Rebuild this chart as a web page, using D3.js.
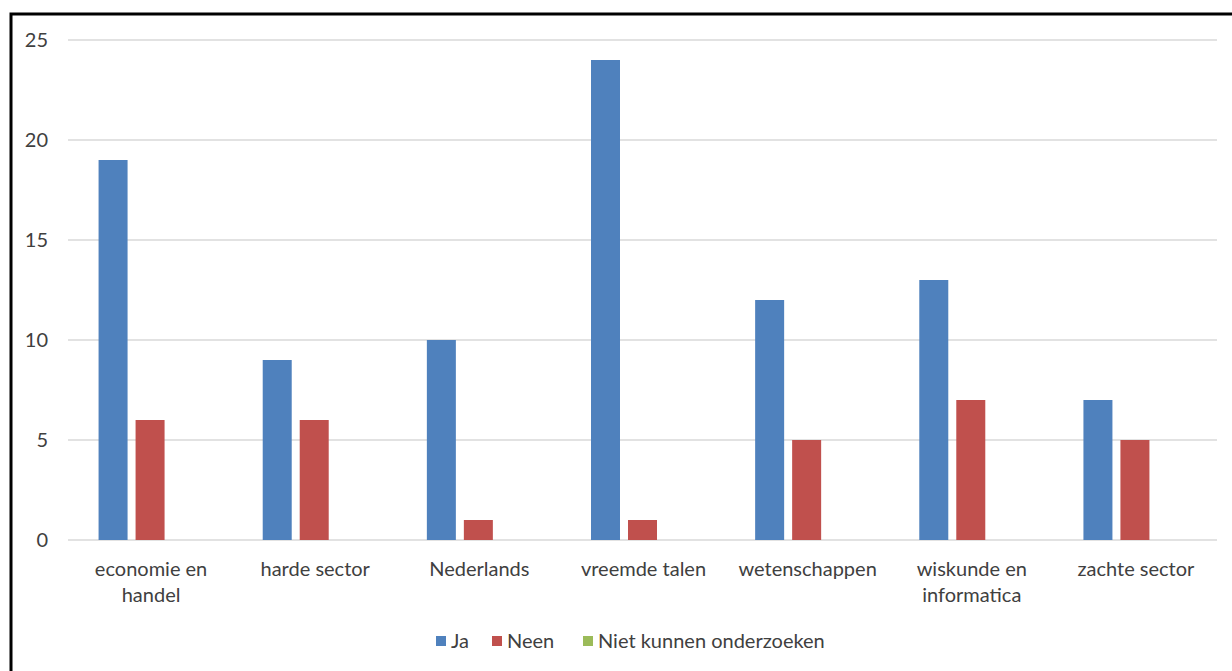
<!DOCTYPE html>
<html>
<head>
<meta charset="utf-8">
<script src="https://cdn.jsdelivr.net/npm/d3@7"></script>
<style>
  html, body { margin: 0; padding: 0; background: #fff; }
  svg { display: block; }
  text { font-family: Lato, "Open Sans", sans-serif; fill: #404040; }
</style>
</head>
<body>
<svg id="chart" width="1232" height="671"></svg>
<script>
// Categories (study domains) and counts per answer
const categories = [
  ["economie en", "handel"],
  ["harde sector"],
  ["Nederlands"],
  ["vreemde talen"],
  ["wetenschappen"],
  ["wiskunde en", "informatica"],
  ["zachte sector"]
];
const seriesNames = ["Ja", "Neen", "Niet kunnen onderzoeken"];
const ja = [19, 9, 10, 24, 12, 13, 7];
const neen = [6, 6, 1, 1, 5, 7, 5];
const nietKunnen = [0, 0, 0, 0, 0, 0, 0];
const yTicks = [0, 5, 10, 15, 20, 25];
const colors = ["#4F81BD", "#C0504D", "#9BBB59"];

const seriesValues = [ja, neen, nietKunnen];
const catKeys = categories.map(c => c.join(" "));
const fontSize = "20px";

const svg = d3.select("#chart");

// Outer frame
svg.append("rect")
  .attr("x", 11).attr("y", 14)
  .attr("width", 1240).attr("height", 700)
  .attr("fill", "none").attr("stroke", "#000").attr("stroke-width", 3);

const plot = { left: 68, right: 1217, top: 40, bottom: 540 };

const x = d3.scaleBand().domain(catKeys).range([plot.left, plot.right]).paddingInner(0).paddingOuter(0);
const y = d3.scaleLinear().domain([0, 25]).range([plot.bottom, plot.top]);

// Gridlines
svg.append("g")
  .selectAll("line")
  .data(yTicks)
  .join("line")
  .attr("x1", plot.left).attr("x2", plot.right)
  .attr("y1", d => y(d)).attr("y2", d => y(d))
  .attr("stroke", "#D9D9D9").attr("stroke-width", 1.5);

// Y axis labels
const yAxis = d3.axisLeft(y).tickValues(yTicks).tickSize(0).tickPadding(0);
const yg = svg.append("g").attr("transform", `translate(${plot.left - 20},0)`).call(yAxis);
yg.select(".domain").remove();
yg.selectAll("text").style("font-size", fontSize).attr("fill", "#404040")
  .style("font-family", "Lato, 'Open Sans', sans-serif");

// Bars: inner band per series
const barW = 29, barStep = 37;
const sub = d3.scaleBand().domain(seriesNames).range([0, barStep * 3]);
const groupOffset = (x.bandwidth() - barStep * 3 + (barStep - barW)) / 2;

seriesNames.forEach((name, si) => {
  svg.append("g")
    .selectAll("rect")
    .data(seriesValues[si])
    .join("rect")
    .attr("x", (d, i) => x(catKeys[i]) + groupOffset + sub(name))
    .attr("y", d => y(d))
    .attr("width", barW)
    .attr("height", d => y(0) - y(d))
    .attr("fill", colors[si]);
});

// Category labels
const xl = svg.append("g");
categories.forEach((lines, i) => {
  const cx = x(catKeys[i]) + x.bandwidth() / 2 + 1;
  const t = xl.append("text")
    .attr("x", cx)
    .attr("y", 576)
    .attr("text-anchor", "middle")
    .style("font-size", fontSize);
  lines.forEach((ln, j) => {
    t.append("tspan").attr("x", cx).attr("dy", j === 0 ? 0 : 26).text(ln);
  });
});

// Legend
const legendItems = [
  { name: seriesNames[0], x: 436 },
  { name: seriesNames[1], x: 492 },
  { name: seriesNames[2], x: 583 }
];
const lg = svg.append("g");
legendItems.forEach((it, i) => {
  lg.append("rect").attr("x", it.x).attr("y", 636).attr("width", 10).attr("height", 10).attr("fill", colors[i]);
  lg.append("text").attr("x", it.x + 15).attr("y", 648).style("font-size", fontSize).text(it.name);
});
</script>
</body>
</html>
